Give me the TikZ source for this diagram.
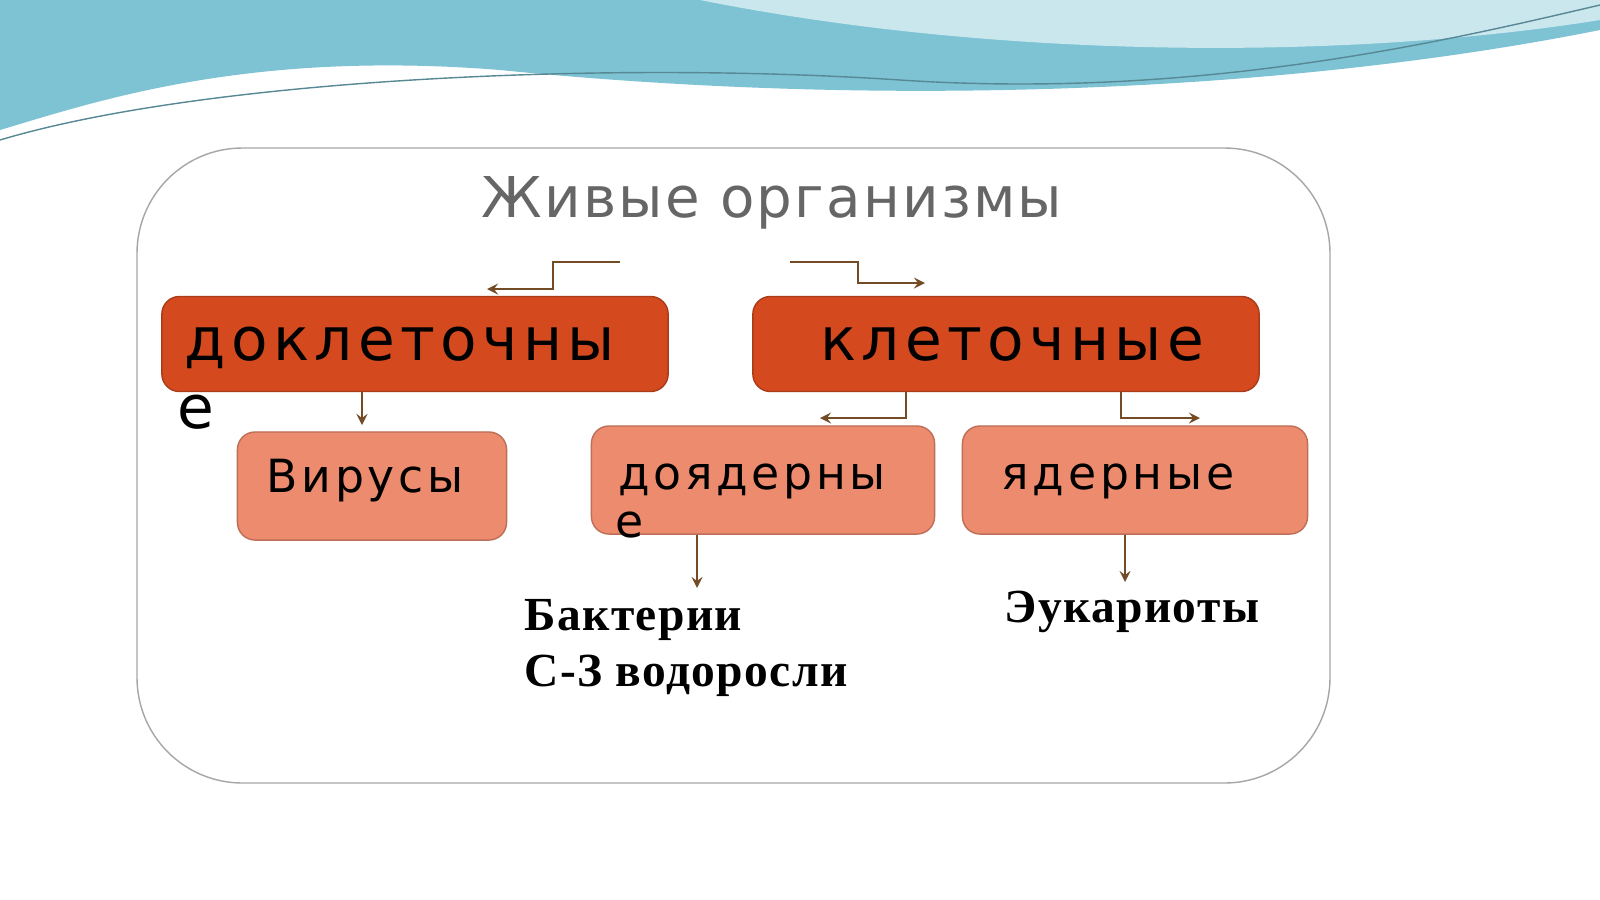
\documentclass[tikz,border=0pt]{standalone}
\usepackage{fontspec}
\setmainfont{DejaVu Sans}
\newfontfamily\serifb{Liberation Serif}
\usetikzlibrary{positioning}
\definecolor{darkbox}{HTML}{D44A1E}
\definecolor{lightbox}{HTML}{EC8B6D}
\definecolor{wave}{HTML}{7DC3D4}
\tikzset{
  big/.style={rounded corners=5pt, fill=darkbox, draw=darkbox!80!black, minimum width=5.06cm, minimum height=0.95cm},
  small/.style={rounded corners=5pt, fill=lightbox, draw=lightbox!80!black, minimum height=1.08cm},
  link/.style={draw=brown!60!black, ->, >=stealth, thin},
  bigtext/.style={font=\fontsize{17}{20}\selectfont\addfontfeature{LetterSpace=9}},
  smalltext/.style={font=\fontsize{13}{15}\selectfont\addfontfeature{LetterSpace=8}},
  leaf/.style={font=\serifb\bfseries\fontsize{13.5}{16}\selectfont\addfontfeature{LetterSpace=3}, align=left, anchor=west}
}
\begin{document}
\begin{tikzpicture}[x=0.01cm,y=-0.01cm]
\useasboundingbox (0,0) rectangle (1600,899);
\fill[white] (0,0) rectangle (1600,899);
% top waves
\fill[wave] (0,0) -- (1600,0) -- (1600,30) .. controls (1300,90) and (900,110) .. (500,70)
  .. controls (250,50) and (100,100) .. (0,130) -- cycle;
\fill[wave!40] (700,0) -- (1600,0) -- (1600,20) .. controls (1350,60) and (1000,60) .. (700,0) -- cycle;
\draw[wave!70!black, thin] (0,140) .. controls (200,80) and (600,60) .. (900,80) .. controls (1200,100) and (1450,40) .. (1600,5);
% frame
\draw[gray!70, fill=white, rounded corners=30pt] (137,148) rectangle (1330,783);
\node (title) at (772,203) {\fontsize{16}{19}\selectfont\addfontfeature{LetterSpace=4}\color{gray!80!black}Живые организмы};
% boxes
\node[big] (pre) at (415,344) {};
\node[bigtext, anchor=west] at (172,348) {доклеточны};
\node[bigtext] at (196,412) {е};
\node[big] (cell) at (1006,344) {};
\node[bigtext] at (1012,344) {клеточные};
\node[small, minimum width=2.69cm] (vir) at (372,486) {};
\node[smalltext] at (365,481) {Вирусы};
\node[small, minimum width=3.43cm] (prok) at (763,480) {};
\node[smalltext, anchor=west] at (606,481) {доядерны};
\node[smalltext] at (630,525) {е};
\node[small, minimum width=3.45cm] (euk) at (1135,480) {};
\node[smalltext] at (1118,481) {ядерные};
% connectors
\coordinate (tl) at (620,262);
\coordinate (tr) at (790,262);
\draw[link] (tl) -- (553,262) -- (553,289) -- (487,289);
\draw[link] (tr) -- (858,262) -- (858,283) -- (925,283);
\draw[link] (cell.south -| 906,0) -- (906,418) -- (820,418);
\draw[link] (cell.south -| 1121,0) -- (1121,418) -- (1200,418);
\draw[link] (pre.south -| 362,0) -- (362,425);
\draw[link] (prok.south -| 697,0) -- (697,588);
\draw[link] (euk.south -| 1125,0) -- (1125,582);
% leaves
\node[leaf] (bact) at (512,648) {Бактерии\\С-З водоросли};
\node[leaf] (eu) at (992,612) {Эукариоты};
\end{tikzpicture}
\end{document}
